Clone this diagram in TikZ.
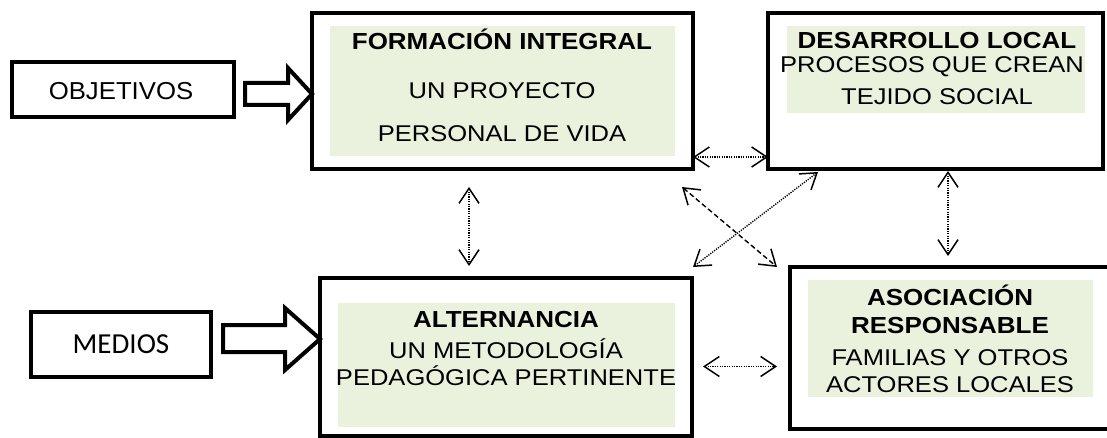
\documentclass[tikz,border=0pt]{standalone}
\usepackage{fontspec}
\setmainfont{Liberation Sans}
\newfontfamily\calibrifont{Carlito}
\usetikzlibrary{arrows.meta}
\definecolor{palegreen}{RGB}{234,241,221}
\newcommand\hstretch[1]{\scalebox{1.12}[1]{#1}}
\tikzset{
  bigbox/.style={draw, line width=4.5pt, inner sep=0pt, outer sep=0pt, anchor=north west},
  smallbox/.style={draw, line width=4.3pt, inner sep=0pt, outer sep=0pt, anchor=north west},
  greenbg/.style={fill=palegreen, draw=none, inner sep=0pt, outer sep=0pt, anchor=north west},
  blockarrow/.style={draw, line width=4pt, miter limit=10, line join=miter},
  tip/.tip={Straight Barb[length=15pt,width=20pt,line width=1.5pt]},
  dotconn/.style={line width=1.4pt, dash pattern=on 1.2pt off 1.2pt, tip-tip},
  dashconn/.style={line width=1.4pt, dash pattern=on 5pt off 3pt, tip-tip},
  titletext/.style={font=\bfseries\fontsize{23.2}{28}\selectfont, inner sep=0pt, anchor=base},
  subtext/.style={font=\fontsize{22.8}{27}\selectfont, inner sep=0pt, anchor=base},
}
\begin{document}
\begin{tikzpicture}[x=1pt,y=-1pt]
\useasboundingbox (0,0) rectangle (1107,438);

% green backgrounds
\node[greenbg, minimum width=345pt, minimum height=130pt] (formbg) at (330,26) {};
\node[greenbg, minimum width=298pt, minimum height=87pt] (desbg) at (787,26) {};
\node[greenbg, minimum width=337pt, minimum height=124pt] (altbg) at (338,303) {};
\node[greenbg, minimum width=285pt, minimum height=117pt] (asobg) at (808,280) {};

% main boxes
\node[bigbox, minimum width=381pt, minimum height=156pt] (form) at (312,13) {};
\node[bigbox, minimum width=335pt, minimum height=156pt] (des) at (768,13) {};
\node[bigbox, minimum width=372pt, minimum height=158pt] (alt) at (320,278) {};
\node[bigbox, minimum width=330pt, minimum height=162pt] (aso) at (790,267) {};

% side boxes
\node[smallbox, minimum width=222pt, minimum height=55pt] (obj) at (12,62) {};
\node[smallbox, minimum width=180pt, minimum height=65pt] (med) at (31,312) {};

% texts
\node[subtext, font=\fontsize{24.5}{28}\selectfont] (objt) at (121,100) {\scalebox{1.05}[1]{OBJETIVOS}};
\node[subtext, font=\calibrifont\fontsize{29}{34}\selectfont] (medt) at (121,353) {MEDIOS};

\node[titletext] (formt1) at (502,50) {\hstretch{FORMACIÓN INTEGRAL}};
\node[subtext] (formt2) at (502,99) {\hstretch{UN PROYECTO}};
\node[subtext] (formt3) at (502,142) {\hstretch{PERSONAL DE VIDA}};

\node[titletext] (dest1) at (937,49) {\hstretch{DESARROLLO LOCAL}};
\node[subtext] (dest2) at (932,73) {\hstretch{PROCESOS QUE CREAN}};
\node[subtext] (dest3) at (937,105) {\hstretch{TEJIDO SOCIAL}};

\node[titletext] (altt1) at (506,327) {\hstretch{ALTERNANCIA}};
\node[subtext] (altt2) at (506,358) {\hstretch{UN METODOLOGÍA}};
\node[subtext] (altt3) at (506,385) {\hstretch{PEDAGÓGICA PERTINENTE}};

\node[titletext] (asot1) at (950,305) {\hstretch{ASOCIACIÓN}};
\node[titletext] (asot2) at (950,333) {\hstretch{RESPONSABLE}};
\node[subtext] (asot3) at (950,365) {\hstretch{FAMILIAS Y OTROS}};
\node[subtext] (asot4) at (950,392) {\hstretch{ACTORES LOCALES}};

% block arrows
\draw[blockarrow] (245,83) -- (288,83) -- (288,68) -- (form.west |- 0,94) -- (288,120) -- (288,105) -- (245,105) -- cycle;
\draw[blockarrow] (223,325) -- (285,325) -- (285,308) -- (alt.west |- 0,339) -- (285,370) -- (285,352) -- (223,352) -- cycle;

% connectors
\draw[dotconn] ([shift={(0,-12)}]form.south east) -- ([shift={(0,-12)}]des.south west);
\draw[dotconn] ([shift={(-33.5,18)}]form.south) -- ([shift={(-37,-12)}]alt.north);
\draw[dotconn] ([shift={(12.5,2)}]des.south) -- ([shift={(-7,-11)}]aso.north);
\draw[dashconn] ([shift={(-11,18)}]form.south east) -- ([shift={(-13,0)}]aso.north west);
\draw[dotconn] ([shift={(50,3)}]des.south west) -- ([shift={(1,-11)}]alt.north east);
\draw[dotconn] ([shift={(11,9.5)}]alt.east) -- ([shift={(-13,18.5)}]aso.west);
\end{tikzpicture}
\end{document}
